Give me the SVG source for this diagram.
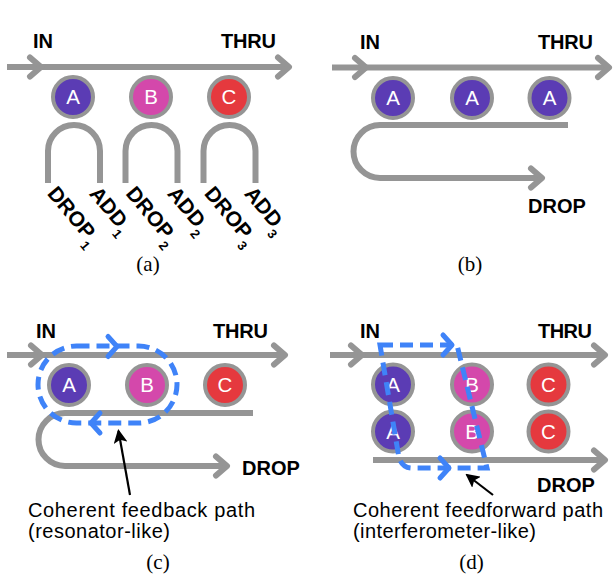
<svg xmlns="http://www.w3.org/2000/svg" width="613" height="576" viewBox="0 0 613 576">
<style>
.g{fill:none;stroke:#959595;stroke-width:6}
.gc{fill:none;stroke:#959595;stroke-width:6;stroke-linecap:round;stroke-linejoin:round}
.ring{stroke:#959595;stroke-width:4}
.pa{fill:#5b3cb4}.pb{fill:#d448ab}.pc{fill:#e5393e}
.lt{font-family:"Liberation Sans",Arial,sans-serif;font-size:20.5px;fill:#fff;text-anchor:middle}
.bl{font-family:"Liberation Sans",Arial,sans-serif;font-size:20px;font-weight:bold;fill:#000}
.rl{font-size:21px}
.sub{font-size:13px}
.cap{font-family:"Liberation Serif","Times New Roman",serif;font-size:21px;fill:#000;text-anchor:middle}
.note{font-family:"Liberation Sans",Arial,sans-serif;font-size:20px;fill:#000}
.bd{fill:none;stroke:#3f83f8;stroke-width:5;stroke-dasharray:13 7}
.bc{fill:none;stroke:#3f83f8;stroke-width:5;stroke-linecap:round;stroke-linejoin:round}
.ar{fill:none;stroke:#000;stroke-width:2.2;marker-end:url(#ah)}
</style>
<defs>
<path id="chev" class="gc" d="M-11,-9.5 L0,0 L-11,9.5"/>
<path id="bchev" class="bc" d="M-9,-10 L0,0 L-9,10"/>
<marker id="ah" viewBox="0 0 14 14" refX="12" refY="7" markerWidth="14" markerHeight="14" markerUnits="userSpaceOnUse" orient="auto">
<path d="M0,0 L14,7 L0,14 L3,7 z" fill="#000"/>
</marker>
</defs>

<!-- connectors: waveguides -->
<g id="connectors">
<!-- (a) -->
<path class="g" d="M7,67 H289"/>
<use href="#chev" x="41" y="67"/>
<use href="#chev" x="289" y="67"/>
<path class="g" d="M48,183 V151 A26,26 0 0 1 100,151 V183"/>
<path class="g" d="M125.5,183 V151 A26,26 0 0 1 177.5,151 V183"/>
<path class="g" d="M203.5,183 V151 A26,26 0 0 1 255.5,151 V183"/>
<!-- (b) -->
<path class="g" d="M332,67.5 H609"/>
<use href="#chev" x="366" y="67.5"/>
<use href="#chev" x="609" y="67.5"/>
<path class="g" d="M568,125 H380 A26.5,26.5 0 0 0 380,178 H542"/>
<use href="#chev" x="542" y="178"/>
<!-- (c) -->
<path class="g" d="M7,355 H285"/>
<use href="#chev" x="42" y="355"/>
<use href="#chev" x="285" y="355"/>
<path class="g" d="M253,413 H65 A26.5,26.5 0 0 0 65,466 H227"/>
<use href="#chev" x="227" y="466"/>
<!-- (d) -->
<path class="g" d="M330,355 H605"/>
<use href="#chev" x="362" y="355"/>
<use href="#chev" x="605" y="355"/>
<path class="g" d="M373,460 H605"/>
<use href="#chev" x="605" y="460"/>
</g>

<!-- port labels -->
<g id="labels">
<text class="bl" x="33" y="48">IN</text>
<text class="bl" x="221" y="48" textLength="55">THRU</text>
<text class="bl rl" transform="translate(46.5,194) rotate(50)">DROP<tspan class="sub" dy="8">1</tspan></text>
<text class="bl rl" transform="translate(88.5,194) rotate(50)">ADD<tspan class="sub" dy="8">1</tspan></text>
<text class="bl rl" transform="translate(125,194) rotate(50)">DROP<tspan class="sub" dy="8">2</tspan></text>
<text class="bl rl" transform="translate(166.5,194) rotate(50)">ADD<tspan class="sub" dy="8">2</tspan></text>
<text class="bl rl" transform="translate(203.5,194) rotate(50)">DROP<tspan class="sub" dy="8">3</tspan></text>
<text class="bl rl" transform="translate(243.5,194) rotate(50)">ADD<tspan class="sub" dy="8">3</tspan></text>

<text class="bl" x="360" y="49">IN</text>
<text class="bl" x="538" y="49" textLength="55">THRU</text>
<text class="bl" x="528" y="212.5">DROP</text>

<text class="bl" x="36" y="337.5">IN</text>
<text class="bl" x="213" y="337.5" textLength="55">THRU</text>
<text class="bl" x="242" y="474.5">DROP</text>

<text class="bl" x="360" y="337.5">IN</text>
<text class="bl" x="538" y="337.5" textLength="54">THRU</text>
<text class="bl" x="537" y="491.5">DROP</text>
</g>

<!-- nodes: rings -->
<g id="a-A"><circle class="ring pa" cx="73" cy="97" r="20"/><text class="lt" x="73" y="104">A</text></g>
<g id="a-B"><circle class="ring pb" cx="151" cy="97" r="20"/><text class="lt" x="151" y="104">B</text></g>
<g id="a-C"><circle class="ring pc" cx="229" cy="97" r="20"/><text class="lt" x="229" y="104">C</text></g>

<g id="b-A1"><circle class="ring pa" cx="393" cy="98" r="20"/><text class="lt" x="393" y="105">A</text></g>
<g id="b-A2"><circle class="ring pa" cx="472" cy="98" r="20"/><text class="lt" x="472" y="105">A</text></g>
<g id="b-A3"><circle class="ring pa" cx="549.5" cy="98" r="20"/><text class="lt" x="549.5" y="105">A</text></g>

<g id="c-A"><circle class="ring pa" cx="69" cy="385" r="20"/><text class="lt" x="69" y="392">A</text></g>
<g id="c-B"><circle class="ring pb" cx="147" cy="385" r="20"/><text class="lt" x="147" y="392">B</text></g>
<g id="c-C"><circle class="ring pc" cx="225" cy="385" r="20"/><text class="lt" x="225" y="392">C</text></g>

<g id="d-A1"><circle class="ring pa" cx="393" cy="384.5" r="20"/><text class="lt" x="393" y="391.5">A</text></g>
<g id="d-B1"><circle class="ring pb" cx="472" cy="384.5" r="20"/><text class="lt" x="472" y="391.5">B</text></g>
<g id="d-C1"><circle class="ring pc" cx="548.5" cy="384.5" r="20"/><text class="lt" x="548.5" y="391.5">C</text></g>
<g id="d-A2"><circle class="ring pa" cx="393" cy="431.5" r="20"/><text class="lt" x="393" y="438.5">A</text></g>
<g id="d-B2"><circle class="ring pb" cx="472" cy="431.5" r="20"/><text class="lt" x="472" y="438.5">B</text></g>
<g id="d-C2"><circle class="ring pc" cx="548.5" cy="431.5" r="20"/><text class="lt" x="548.5" y="438.5">C</text></g>

<!-- coherent paths -->
<g id="paths">
<rect class="bd" x="38" y="346" width="139" height="77" rx="38.5"/>
<use href="#bchev" x="117" y="346.5"/>
<use href="#bchev" transform="translate(91,423) rotate(180)"/>
<path class="bd" d="M380,345 L457,345 L487,468 L412,468 Q401,468 398.5,455 Z"/>
<use href="#bchev" x="452" y="345"/>
<use href="#bchev" x="449" y="468"/>
</g>

<!-- annotations -->
<g id="notes">
<line class="ar" x1="130" y1="495" x2="118.5" y2="431"/>
<line class="ar" x1="493" y1="495" x2="467" y2="475"/>
<text class="note" x="28" y="517" textLength="227">Coherent feedback path</text>
<text class="note" x="28" y="537.5" textLength="142">(resonator-like)</text>
<text class="note" x="353" y="517" textLength="250">Coherent feedforward path</text>
<text class="note" x="353" y="537.5" textLength="183">(interferometer-like)</text>
<text class="cap" x="148" y="271">(a)</text>
<text class="cap" x="470" y="271">(b)</text>
<text class="cap" x="158" y="569">(c)</text>
<text class="cap" x="471.5" y="569">(d)</text>
</g>
</svg>
